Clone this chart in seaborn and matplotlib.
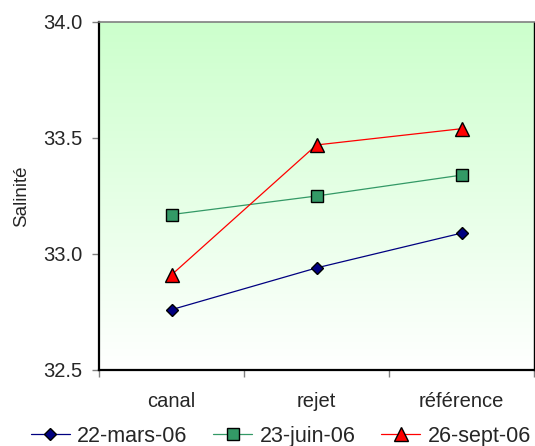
import numpy as np
import pandas as pd
import matplotlib
matplotlib.use("Agg")
import matplotlib.pyplot as plt
import seaborn as sns
from matplotlib.lines import Line2D

categories = ["canal", "rejet", "référence"]
series_names = ["22-mars-06", "23-juin-06", "26-sept-06"]
mars = [32.76, 32.94, 33.09]
juin = [33.17, 33.25, 33.34]
sept = [32.91, 33.47, 33.54]
y_ticks = [32.5, 33.0, 33.5, 34.0]

sns.set_theme(style="white")
plt.rcParams['font.family'] = ['Liberation Sans', 'DejaVu Sans']

fig = plt.figure(figsize=(5.35, 4.46), dpi=100)
ax = fig.add_axes([99/535, (446-370)/446, (534-99)/535, (370-22)/446])

# gradient background
grad = np.linspace(0, 1, 256).reshape(-1, 1)
top = np.array([204, 255, 204]) / 255.0
bot = np.array([255, 255, 255]) / 255.0
img = top[None, None, :] * (1 - grad[:, :, None]) + bot[None, None, :] * grad[:, :, None]
ax.imshow(img, extent=[0, 1, 0, 1], transform=ax.transAxes, aspect='auto', zorder=0)

df = pd.DataFrame({
    "cat": categories * 3,
    "x": list(range(len(categories))) * 3,
    "val": mars + juin + sept,
    "serie": sum([[s] * len(categories) for s in series_names], []),
})

styles = {
    "22-mars-06": dict(color="#000080", marker="D", markersize=6.3, mfc="#000080"),
    "23-juin-06": dict(color="#339966", marker="s", markersize=9.0, mfc="#339966"),
    "26-sept-06": dict(color="#FF0000", marker="^", markersize=10.0, mfc="#FF0000"),
}
for name in series_names:
    sub = df[df["serie"] == name]
    st = styles[name]
    sns.lineplot(data=sub, x="x", y="val", ax=ax, color=st["color"], lw=0.9,
                 marker=st["marker"], markersize=st["markersize"],
                 markerfacecolor=st["mfc"], markeredgecolor="black",
                 markeredgewidth=1.0, zorder=3, legend=False)

ax.set_xlim(-0.5, len(categories) - 0.5)
ax.set_ylim(32.5, 34.0)
ax.set_yticks(y_ticks)
ax.set_yticklabels([f"{v:.1f}" for v in y_ticks])
ax.set_xticks(np.arange(-0.5, len(categories), 1.0))
ax.set_xticklabels([])
ax.set_xticks(range(len(categories)), minor=True)
ax.set_xticklabels(categories, minor=True)
ax.tick_params(axis='x', which='major', direction='out', length=5, width=1, color='#808080', bottom=True)
ax.tick_params(axis='x', which='minor', length=0, pad=16, labelsize=14.5)
ax.tick_params(axis='y', direction='out', length=5, width=1, color='#808080', left=True, pad=7, labelsize=14.5)
ax.set_xlabel("")
ax.set_ylabel("Salinité", fontsize=13.5, labelpad=9)

for s in ["left", "bottom"]:
    ax.spines[s].set_color("black")
    ax.spines[s].set_linewidth(1.6)
ax.spines["top"].set_color("#808080")
ax.spines["top"].set_linewidth(1.2)
ax.spines["right"].set_color("black")
ax.spines["right"].set_linewidth(1.0)

handles = [Line2D([], [], color=styles[n]["color"], lw=0.9, marker=styles[n]["marker"],
                  markersize=styles[n]["markersize"], markerfacecolor=styles[n]["mfc"],
                  markeredgecolor="black", markeredgewidth=1.0) for n in series_names]
fig.legend(handles, series_names, loc="center", bbox_to_anchor=(0.525, 0.022), ncol=3,
           frameon=False, fontsize=15.5, handlelength=1.8, handletextpad=0.35,
           columnspacing=1.2, borderaxespad=0)

fig.savefig("out.png", dpi=100)
